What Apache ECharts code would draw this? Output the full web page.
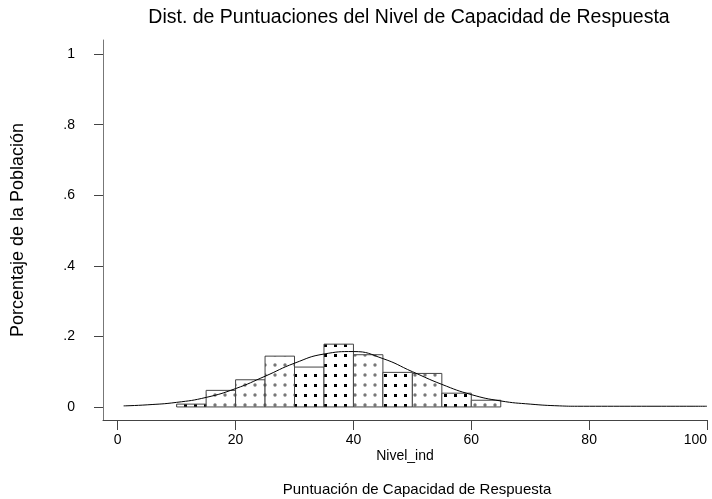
<!DOCTYPE html>
<html>
<head>
<meta charset="utf-8">
<script src="https://cdn.jsdelivr.net/npm/echarts@6/dist/echarts.min.js"></script>
<style>
  html, body { margin: 0; padding: 0; background: #fff; }
  #main { width: 712px; height: 499px; }
</style>
</head>
<body>
<div id="main"></div>
<script>
// bins of Nivel_ind (start, end) and share of population
var binStart = [10, 15, 20, 25, 30, 35, 40, 45, 50, 55, 60];
var binEnd   = [15, 20, 25, 30, 35, 40, 45, 50, 55, 60, 65];
var binValue = [0.008, 0.047, 0.077, 0.144, 0.113, 0.178, 0.148, 0.098, 0.095, 0.039, 0.019];

// normal curve overlay
var curveX = [1, 5, 10, 15, 20, 25, 30, 35, 40, 45, 50, 55, 60, 65, 70, 75, 78, 100];
var curveY = [0.003, 0.006, 0.013, 0.027, 0.052, 0.087, 0.124, 0.150, 0.157, 0.137, 0.100, 0.064, 0.035, 0.017, 0.008, 0.003, 0.002, 0.002];

var xTicks = [0, 20, 40, 60, 80, 100];
var yTicks = [0, 0.2, 0.4, 0.6, 0.8, 1];

// which fill pattern each bar uses (0 = grey dots, 1 = black squares)
var patternKind = [1, 0, 0, 0, 1, 1, 0, 1, 0, 1, 0];

function makePattern(kind) {
    var c = document.createElement('canvas');
    c.width = 10; c.height = 10;
    var ctx = c.getContext('2d');
    ctx.fillStyle = '#fff';
    ctx.fillRect(0, 0, 10, 10);
    if (kind === 0) {
        ctx.fillStyle = '#777';
        ctx.beginPath();
        ctx.arc(5, 5, 1.7, 0, Math.PI * 2);
        ctx.fill();
    } else {
        ctx.fillStyle = '#000';
        ctx.fillRect(4, 4, 3, 3);
    }
    return { image: c, repeat: 'repeat' };
}
var patterns = [makePattern(0), makePattern(1)];

var barData = [];
for (var i = 0; i < binStart.length; i++) {
    barData.push([binStart[i], binEnd[i], binValue[i]]);
}
var curveData = [];
for (var j = 0; j < curveX.length; j++) {
    curveData.push([curveX[j], curveY[j]]);
}

var chart = echarts.init(document.getElementById('main'));
var font = 'Liberation Sans, Arial, sans-serif';
var option = {
    animation: false,
    title: [
        {
            text: 'Dist. de Puntuaciones del Nivel de Capacidad de Respuesta',
            left: 404, top: 3, textAlign: 'center',
            textStyle: { fontFamily: font, fontSize: 19.5, fontWeight: 'normal', color: '#000' }
        },
        {
            text: 'Puntuación de Capacidad de Respuesta',
            left: 412, top: 477, textAlign: 'center',
            textStyle: { fontFamily: font, fontSize: 15, fontWeight: 'normal', color: '#000' }
        }
    ],
    grid: { left: 103, right: 5, top: 40, bottom: 79, outerBoundsMode: 'none' },
    xAxis: {
        type: 'value',
        min: -2.5, max: 100,
        name: 'Nivel_ind',
        nameLocation: 'middle',
        nameGap: 29,
        nameMoveOverlap: false,
        nameTextStyle: { fontFamily: font, fontSize: 14, color: '#000' },
        axisLine: { show: true, onZero: false, lineStyle: { color: '#444', width: 1 } },
        axisTick: { show: true, length: 10, customValues: xTicks, lineStyle: { color: '#444' } },
        axisLabel: { customValues: xTicks, margin: 13, alignMaxLabel: 'right', fontFamily: font, fontSize: 14, color: '#000' },
        splitLine: { show: false }
    },
    yAxis: {
        type: 'value',
        min: -0.037, max: 1.04,
        name: 'Porcentaje de la Población',
        nameLocation: 'middle',
        nameGap: 76,
        nameRotate: 90,
        nameMoveOverlap: false,
        nameTextStyle: { fontFamily: font, fontSize: 18, color: '#000' },
        axisLine: { show: true, onZero: false, lineStyle: { color: '#777', width: 1 } },
        axisTick: { show: true, length: 9, customValues: yTicks, lineStyle: { color: '#444' } },
        axisLabel: {
            customValues: yTicks, margin: 28, fontFamily: font, fontSize: 14, color: '#000',
            formatter: function (v) {
                if (v === 0) return '0';
                if (v === 1) return '1';
                return String(Math.round(v * 10) / 10).replace(/^0/, '');
            }
        },
        splitLine: { show: false }
    },
    series: [
        {
            type: 'custom',
            data: barData,
            encode: { x: [0, 1], y: 2 },
            renderItem: function (params, api) {
                var p0 = api.coord([api.value(0), api.value(2)]);
                var p1 = api.coord([api.value(1), 0]);
                return {
                    type: 'rect',
                    shape: { x: p0[0], y: p0[1], width: p1[0] - p0[0], height: p1[1] - p0[1] },
                    style: {
                        fill: patterns[patternKind[params.dataIndex]],
                        stroke: '#444',
                        lineWidth: 1
                    }
                };
            }
        },
        {
            type: 'line',
            data: curveData,
            smooth: 0.5,
            showSymbol: false,
            lineStyle: { color: '#000', width: 1 },
            z: 5
        }
    ]
};
chart.setOption(option);
</script>
</body>
</html>
